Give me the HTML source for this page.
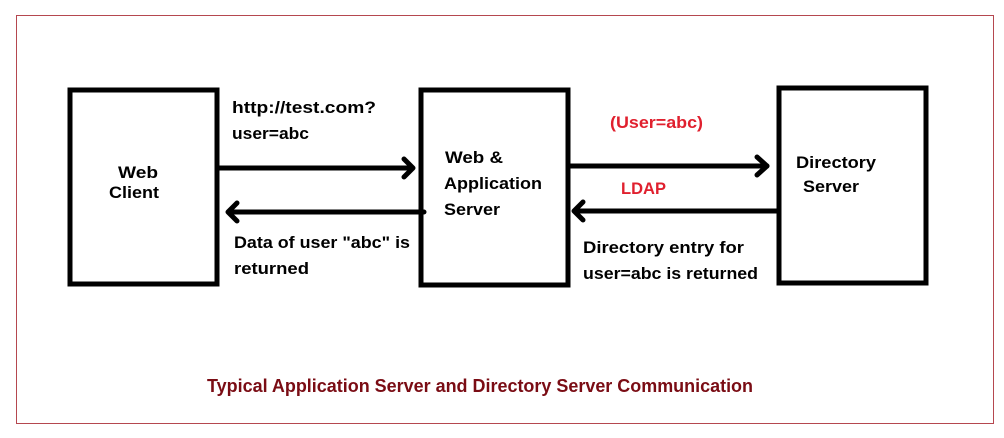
<!DOCTYPE html>
<html><head><meta charset="utf-8"><style>
html,body{margin:0;padding:0;background:#fff;}
svg{display:block;}
text{font-family:"Liberation Sans",Arial,sans-serif;font-weight:bold;font-size:17px;fill:#000;}
.r{fill:#e0202e;}
.t{fill:#7a0c14;font-size:18px;}
</style></head><body>
<svg width="1004" height="438" viewBox="0 0 1004 438" xmlns="http://www.w3.org/2000/svg">
<rect x="0" y="0" width="1004" height="438" fill="#fff"/>
<rect x="16.5" y="15.5" width="977" height="408" fill="none" stroke="#b5474f" stroke-width="1"/>
<g fill="none" stroke="#000" stroke-width="5">
<rect x="70" y="90" width="147" height="194"/>
<rect x="421" y="90" width="147" height="195"/>
<rect x="779" y="88" width="147" height="195"/>
</g>
<g stroke="#000" stroke-width="5" fill="none" stroke-linecap="round" stroke-linejoin="round">
<line x1="218" y1="168" x2="412" y2="168"/><polyline points="404,159 413,168 404,177"/>
<line x1="424" y1="212" x2="229" y2="212"/><polyline points="237,203 228,212 237,221"/>
<line x1="570" y1="166" x2="767" y2="166"/><polyline points="757,157 767,166 757,175"/>
<line x1="777" y1="211" x2="575" y2="211"/><polyline points="583,202 574,211 583,220"/>
</g>
<text x="232" y="113" textLength="144" lengthAdjust="spacingAndGlyphs">http://test.com?</text>
<text x="232" y="139" textLength="77" lengthAdjust="spacingAndGlyphs">user=abc</text>
<text x="118" y="178" textLength="40" lengthAdjust="spacingAndGlyphs">Web</text>
<text x="109" y="198" textLength="50" lengthAdjust="spacingAndGlyphs">Client</text>
<text x="445" y="163" textLength="58" lengthAdjust="spacingAndGlyphs">Web &amp;</text>
<text x="444" y="189" textLength="98" lengthAdjust="spacingAndGlyphs">Application</text>
<text x="444" y="215" textLength="56" lengthAdjust="spacingAndGlyphs">Server</text>
<text class="r" x="610" y="128" textLength="93" lengthAdjust="spacingAndGlyphs">(User=abc)</text>
<text class="r" x="621" y="194" textLength="45" lengthAdjust="spacingAndGlyphs">LDAP</text>
<text x="796" y="168" textLength="80" lengthAdjust="spacingAndGlyphs">Directory</text>
<text x="803" y="192" textLength="56" lengthAdjust="spacingAndGlyphs">Server</text>
<text x="234" y="248" textLength="176" lengthAdjust="spacingAndGlyphs">Data of user "abc" is</text>
<text x="234" y="274" textLength="75" lengthAdjust="spacingAndGlyphs">returned</text>
<text x="583" y="253" textLength="161" lengthAdjust="spacingAndGlyphs">Directory entry for</text>
<text x="583" y="279" textLength="175" lengthAdjust="spacingAndGlyphs">user=abc is returned</text>
<text class="t" x="207" y="392" textLength="546" lengthAdjust="spacingAndGlyphs">Typical Application Server and Directory Server Communication</text>
</svg>
</body></html>
